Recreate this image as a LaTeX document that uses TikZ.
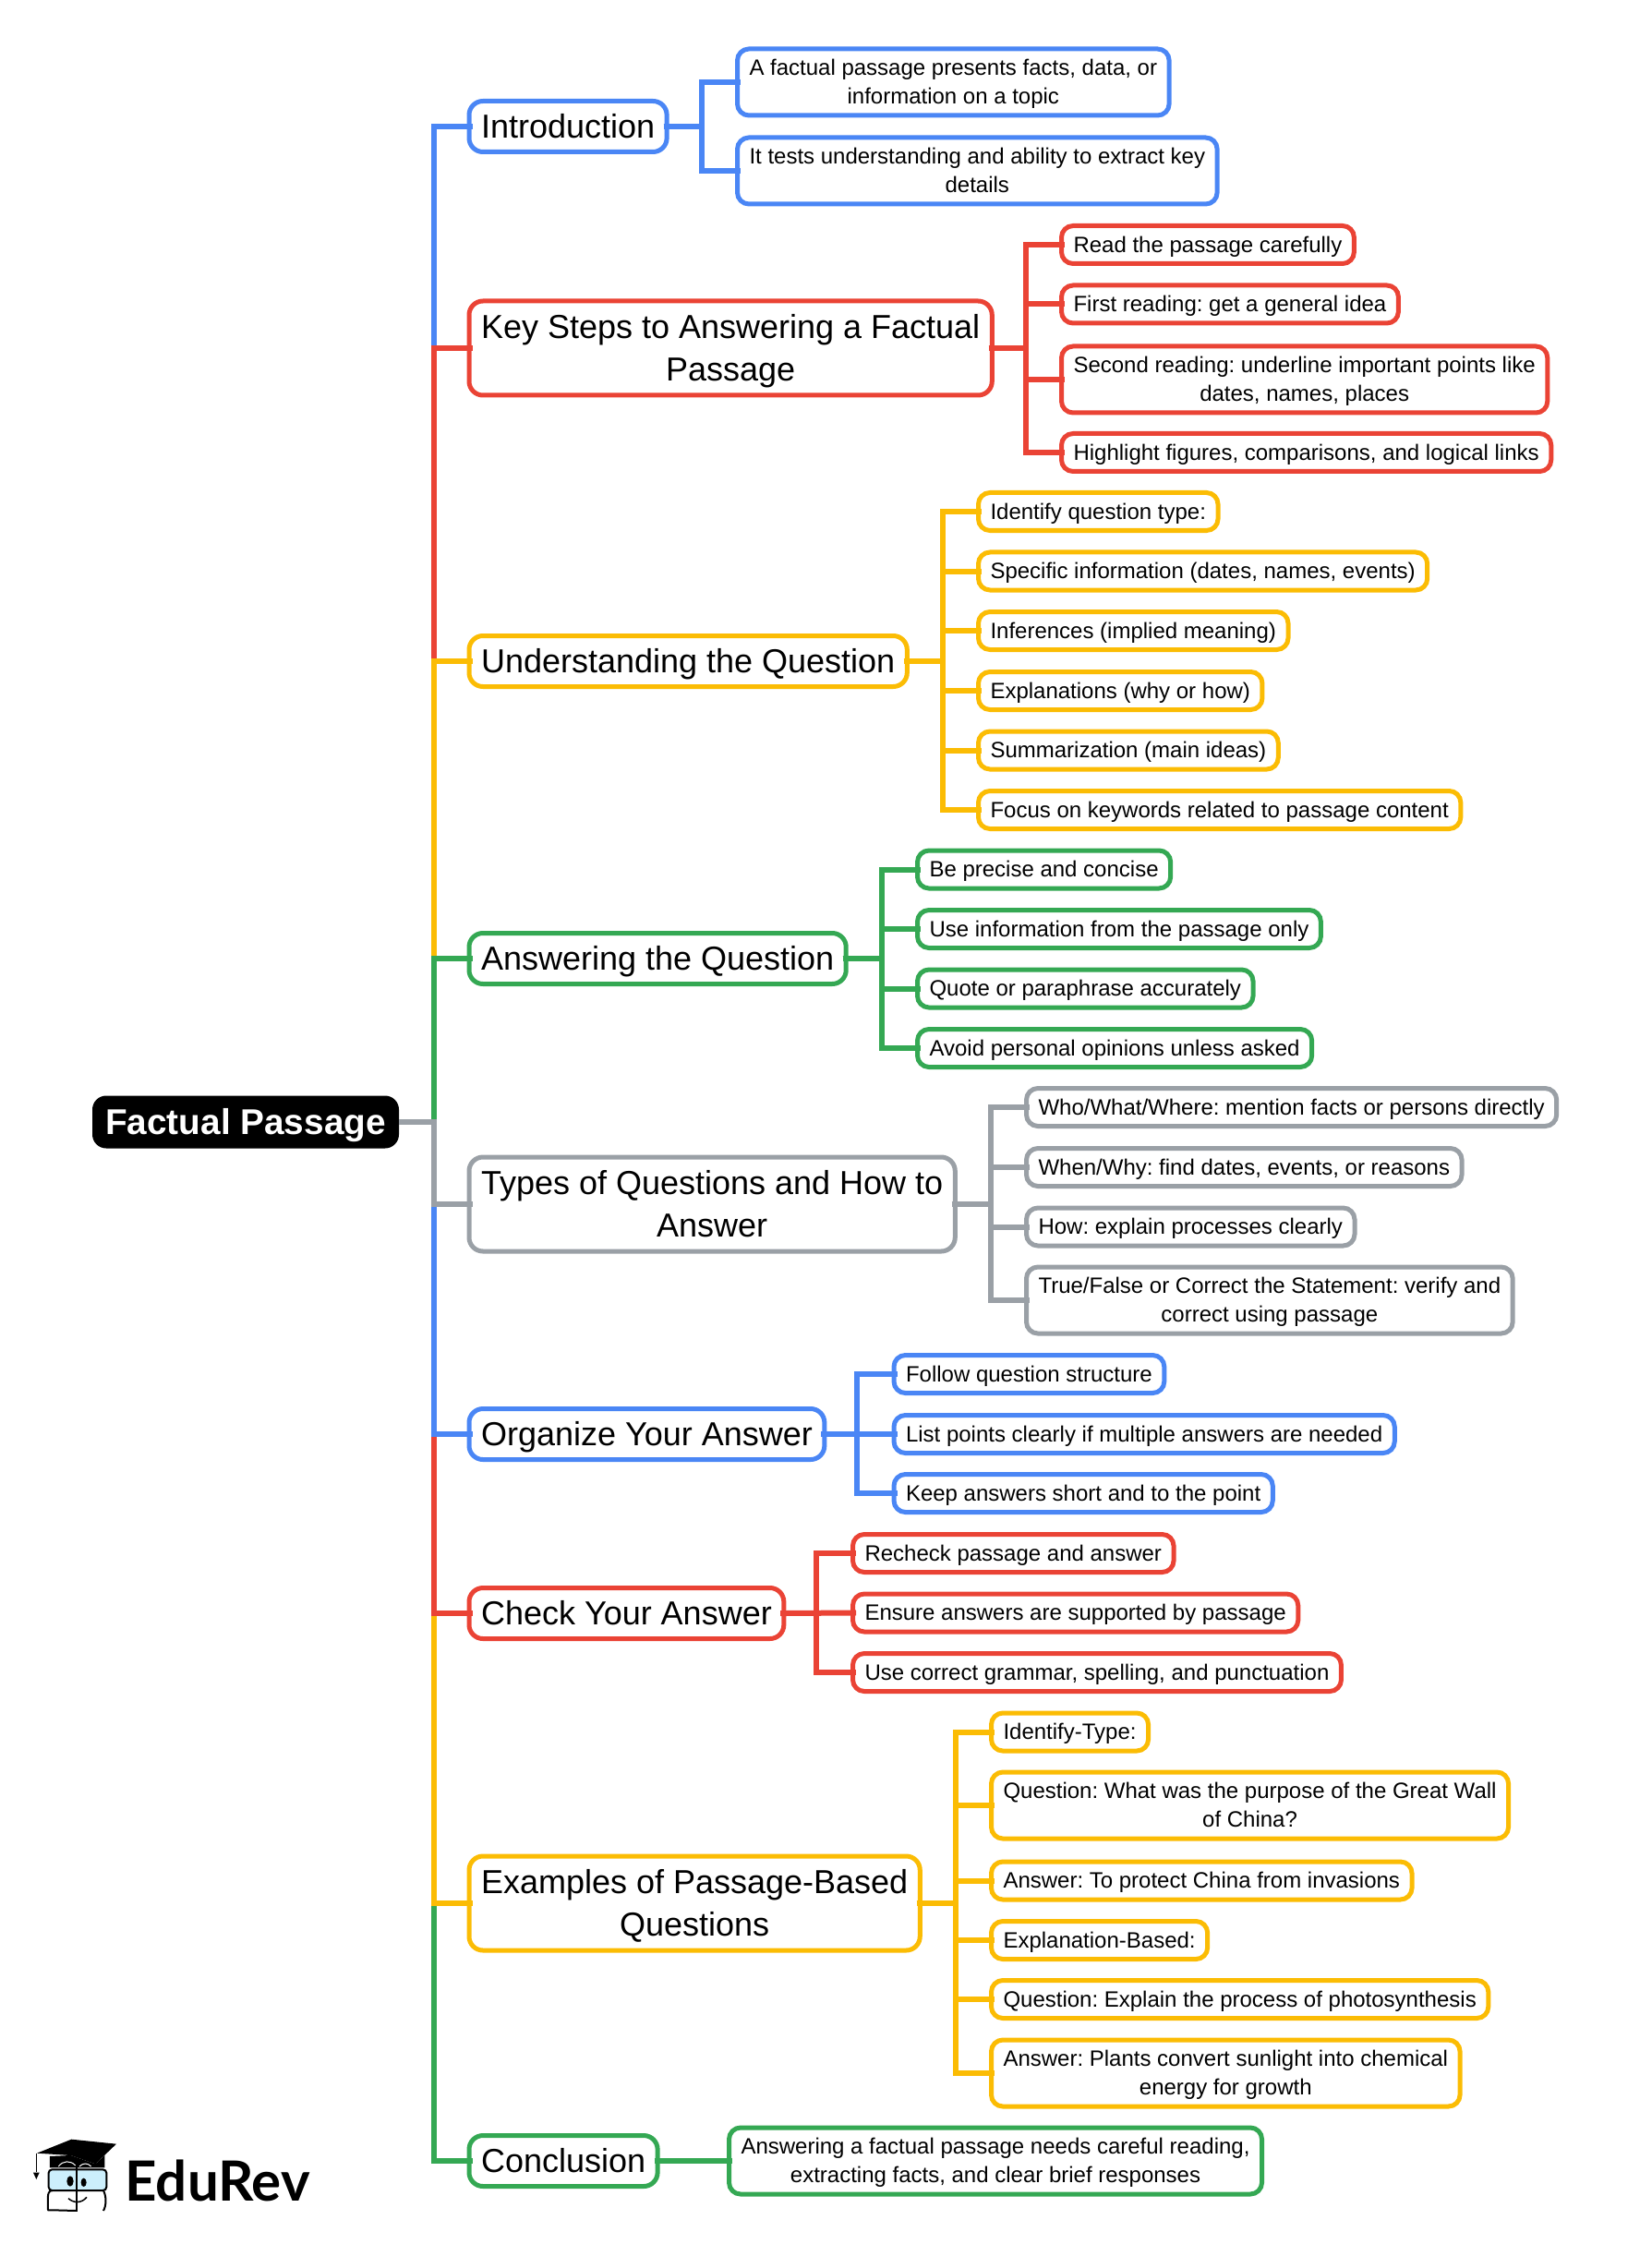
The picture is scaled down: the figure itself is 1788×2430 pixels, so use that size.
\documentclass[tikz,border=0pt]{standalone}
\usepackage{fontspec}
\setmainfont{Liberation Sans}
\newfontfamily\logofont{Lato}
\usepackage{tikz}
\frenchspacing
\newcommand{\topline}{\rule{0pt}{.905em}}
\definecolor{cblue}{HTML}{4A86F5}
\definecolor{cred}{HTML}{EA4335}
\definecolor{cyellow}{HTML}{FBBC04}
\definecolor{cgreen}{HTML}{34A853}
\definecolor{cgray}{HTML}{9AA0A6}
\tikzset{
  linebox/.style={execute at begin node={\topline}, execute at end node={\rule[-.212em]{0pt}{.212em}}},
  root/.style={rectangle, rounded corners=6pt, fill=black, text=white, anchor=west, outer sep=0pt, linebox,
    font=\fontsize{15.5}{20}\selectfont\bfseries, minimum width=132.8pt, minimum height=22.8pt, inner sep=0pt},
  topic/.style={rectangle, rounded corners=6pt, draw=#1, line width=2pt, anchor=west, align=center, outer sep=0pt, linebox,
    font=\fontsize{14.4}{18.65}\selectfont, inner xsep=5.2pt, inner ysep=0pt, minimum height=22pt},
  leaf/.style={rectangle, rounded corners=5pt, draw=#1, line width=2pt, anchor=west, align=center, outer sep=0pt, linebox,
    font=\fontsize{9.6}{12.4}\selectfont, inner xsep=5.2pt, inner ysep=0pt, minimum height=16.4pt},
  twotopic/.style={minimum height=40.8pt},
  twoleaf/.style={minimum height=28.8pt},
  link/.style={draw=#1, line width=2.4pt, shorten >=-1.4pt, shorten <=-1.4pt},
  trunk/.style={draw=#1, line width=2.4pt, shorten >=-1.4pt},
}
\begin{document}
\begin{tikzpicture}[x=0.4pt, y=-0.4pt]
\useasboundingbox (0,0) rectangle (1788,2430);

\node (R) [root] at (100,1215) {Factual Passage};
\coordinate (R0) at (470,1215);

\node (A) [topic=cblue] at (508,137) {Introduction};
\node (B) [topic=cred, twotopic] at (508,377) {\topline Key Steps to Answering a Factual\\Passage};
\node (C) [topic=cyellow] at (508,716) {Understanding the Question};
\node (D) [topic=cgreen] at (508,1038) {Answering the Question};
\node (E) [topic=cgray, twotopic] at (508,1304) {\topline Types of Questions and How to\\Answer};
\node (F) [topic=cblue] at (508,1553) {Organize Your Answer};
\node (G) [topic=cred] at (508,1747) {Check Your Answer};
\node (H) [topic=cyellow, twotopic] at (508,2061) {\topline Examples of Passage-Based\\Questions};
\node (I) [topic=cgreen] at (508,2340) {Conclusion};

\node (A1) [leaf=cblue, twoleaf] at (798.5,89) {\topline A factual passage presents facts, data, or\\information on a topic};
\node (A2) [leaf=cblue, twoleaf] at (798.5,185) {\topline It tests understanding and ability to extract key\\details};

\node (B1) [leaf=cred] at (1149.5,265) {Read the passage carefully};
\node (B2) [leaf=cred] at (1149.5,329.5) {First reading: get a general idea};
\node (B3) [leaf=cred, twoleaf] at (1149.5,411) {\topline Second reading: underline important points like\\dates, names, places};
\node (B4) [leaf=cred] at (1149.5,490) {Highlight figures, comparisons, and logical links};

\node (C1) [leaf=cyellow] at (1059.5,554) {Identify question type:};
\node (C2) [leaf=cyellow] at (1059.5,618.5) {Specific information (dates, names, events)};
\node (C3) [leaf=cyellow] at (1059.5,683) {Inferences (implied meaning)};
\node (C4) [leaf=cyellow] at (1059.5,748) {Explanations (why or how)};
\node (C5) [leaf=cyellow] at (1059.5,812.5) {Summarization (main ideas)};
\node (C6) [leaf=cyellow] at (1059.5,877) {Focus on keywords related to passage content};

\node (D1) [leaf=cgreen] at (993.5,941.5) {Be precise and concise};
\node (D2) [leaf=cgreen] at (993.5,1006) {Use information from the passage only};
\node (D3) [leaf=cgreen] at (993.5,1070.5) {Quote or paraphrase accurately};
\node (D4) [leaf=cgreen] at (993.5,1135) {Avoid personal opinions unless asked};

\node (E1) [leaf=cgray] at (1111.5,1199) {Who/What/Where: mention facts or persons directly};
\node (E2) [leaf=cgray] at (1111.5,1264) {When/Why: find dates, events, or reasons};
\node (E3) [leaf=cgray] at (1111.5,1328.5) {How: explain processes clearly};
\node (E4) [leaf=cgray, twoleaf] at (1111.5,1408) {\topline True/False or Correct the Statement: verify and\\correct using passage};

\node (F1) [leaf=cblue] at (968,1488) {Follow question structure};
\node (F2) [leaf=cblue] at (968,1553) {List points clearly if multiple answers are needed};
\node (F3) [leaf=cblue] at (968,1617) {Keep answers short and to the point};

\node (G1) [leaf=cred] at (923.5,1682) {Recheck passage and answer};
\node (G2) [leaf=cred] at (923.5,1746.5) {Ensure answers are supported by passage};
\node (G3) [leaf=cred] at (923.5,1811) {Use correct grammar, spelling, and punctuation};

\node (H1) [leaf=cyellow] at (1073.5,1875.5) {Identify-Type:};
\node (H2) [leaf=cyellow, twoleaf] at (1073.5,1955) {\topline Question: What was the purpose of the Great Wall\\of China?};
\node (H3) [leaf=cyellow] at (1073.5,2036.5) {Answer: To protect China from invasions};
\node (H4) [leaf=cyellow] at (1073.5,2101) {Explanation-Based:};
\node (H5) [leaf=cyellow] at (1073.5,2165) {Question: Explain the process of photosynthesis};
\node (H6) [leaf=cyellow, twoleaf] at (1073.5,2245) {\topline Answer: Plants convert sunlight into chemical\\energy for growth};

\node (I1) [leaf=cgreen, twoleaf] at (789.5,2340) {\topline Answering a factual passage needs careful reading,\\extracting facts, and clear brief responses};

\coordinate (A0) at (760,137);
\coordinate (B0) at (1111,377);
\coordinate (C0) at (1021,716);
\coordinate (D0) at (955,1038);
\coordinate (E0) at (1073,1304);
\coordinate (F0) at (928,1553);
\coordinate (G0) at (884,1747);
\coordinate (H0) at (1035,2061);

% trunk, upper branches then lower ones
\draw [trunk=cblue] (R.east) -- (R0) |- (A.west);
\draw [trunk=cred] (R.east) -- (R0) |- (B.west);
\draw [trunk=cyellow] (R.east) -- (R0) |- (C.west);
\draw [trunk=cgreen] (R.east) -- (R0) |- (D.west);
\draw [trunk=cgreen] (R.east) -- (R0) |- (I.west);
\draw [trunk=cyellow] (R.east) -- (R0) |- (H.west);
\draw [trunk=cred] (R.east) -- (R0) |- (G.west);
\draw [trunk=cblue] (R.east) -- (R0) |- (F.west);
\draw [trunk=cgray] (R.east) -- (R0) |- (E.west);

\draw [link=cblue] (A.east) -- (A0) |- (A1.west);
\draw [link=cblue] (A.east) -- (A0) |- (A2.west);

\draw [link=cred] (B.east) -- (B0) |- (B1.west);
\draw [link=cred] (B.east) -- (B0) |- (B2.west);
\draw [link=cred] (B.east) -- (B0) |- (B3.west);
\draw [link=cred] (B.east) -- (B0) |- (B4.west);

\draw [link=cyellow] (C.east) -- (C0) |- (C1.west);
\draw [link=cyellow] (C.east) -- (C0) |- (C2.west);
\draw [link=cyellow] (C.east) -- (C0) |- (C3.west);
\draw [link=cyellow] (C.east) -- (C0) |- (C4.west);
\draw [link=cyellow] (C.east) -- (C0) |- (C5.west);
\draw [link=cyellow] (C.east) -- (C0) |- (C6.west);

\draw [link=cgreen] (D.east) -- (D0) |- (D1.west);
\draw [link=cgreen] (D.east) -- (D0) |- (D2.west);
\draw [link=cgreen] (D.east) -- (D0) |- (D3.west);
\draw [link=cgreen] (D.east) -- (D0) |- (D4.west);

\draw [link=cgray] (E.east) -- (E0) |- (E1.west);
\draw [link=cgray] (E.east) -- (E0) |- (E2.west);
\draw [link=cgray] (E.east) -- (E0) |- (E3.west);
\draw [link=cgray] (E.east) -- (E0) |- (E4.west);

\draw [link=cblue] (F.east) -- (F0) |- (F1.west);
\draw [link=cblue] (F.east) -- (F2.west);
\draw [link=cblue] (F.east) -- (F0) |- (F3.west);

\draw [link=cred] (G.east) -- (G0) |- (G1.west);
\draw [link=cred] (G.east) -- (G2.west);
\draw [link=cred] (G.east) -- (G0) |- (G3.west);

\draw [link=cyellow] (H.east) -- (H0) |- (H1.west);
\draw [link=cyellow] (H.east) -- (H0) |- (H2.west);
\draw [link=cyellow] (H.east) -- (H0) |- (H3.west);
\draw [link=cyellow] (H.east) -- (H0) |- (H4.west);
\draw [link=cyellow] (H.east) -- (H0) |- (H5.west);
\draw [link=cyellow] (H.east) -- (H0) |- (H6.west);

\draw [link=cgreen] (I.east) -- (I1.west);

% logo, drawn in the pixels of a 3x crop
\begin{scope}[shift={(0,2250)}, x=0.1333pt, y=-0.1333pt]
\fill (120,245) -- (232,200) -- (378,215) -- (310,280) -- (230,252) -- cycle;
\fill (162,255) -- (230,252) -- (310,280) -- (340,252) -- (340,292) -- (162,292) -- cycle;
\draw [line width=0.6pt] (118,245) -- (118,305);
\fill (108,308) -- (128,308) -- (118,330) -- cycle;
\draw [white, line width=0.4pt] (190,288) .. controls (205,268) and (230,268) .. (245,285);
\draw [white, line width=0.4pt] (258,288) .. controls (270,276) and (285,276) .. (296,288);
\draw [line width=0.8pt, fill=cyan!20!white, rounded corners=1.5pt] (158,298) rectangle (346,366);
\draw [line width=0.8pt, rounded corners=2pt] (246,432) -- (172,430) .. controls (155,430) and (156,415) .. (156,400) .. controls (156,380) and (158,366) .. (170,366);
\draw [line width=0.8pt, rounded corners=2pt] (336,432) .. controls (346,415) and (346,385) .. (336,366);
\draw [line width=0.8pt] (250,292) -- (250,434);
\fill (228,336) ellipse [x radius=11, y radius=17];
\fill (272,340) ellipse [x radius=9, y radius=14];
\draw [line width=0.6pt] (222,392) .. controls (240,408) and (265,408) .. (282,388);
\node (L) [anchor=base west, inner sep=0pt, font=\fontsize{24}{24}\selectfont\logofont\bfseries] at (405,400) {EduRev};
\end{scope}
\end{tikzpicture}
\end{document}
